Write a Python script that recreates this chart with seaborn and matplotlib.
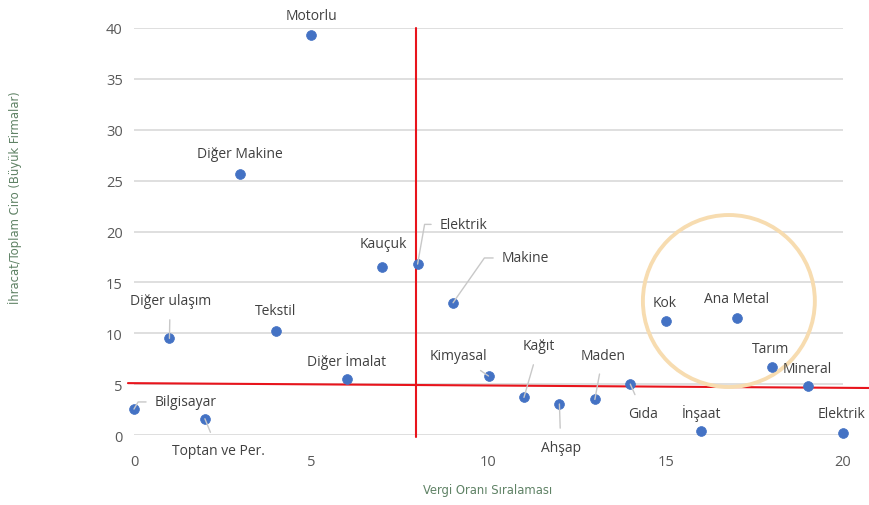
import matplotlib
matplotlib.use("Agg")
import matplotlib.pyplot as plt
import seaborn as sns
import pandas as pd
from matplotlib.patches import Ellipse

# sektörler ve değerler
sectors = ["Bilgisayar", "Diğer ulaşım", "Toptan ve Per.", "Diğer Makine", "Tekstil",
           "Motorlu", "Diğer İmalat", "Kauçuk", "Elektrik", "Makine", "Kimyasal",
           "Kağıt", "Ahşap", "Maden", "Gıda", "Kok", "İnşaat", "Ana Metal",
           "Tarım", "Mineral", "Elektrik"]
tax_rank = [0, 1, 2, 3, 4, 5, 6, 7, 8, 9, 10, 11, 12, 13, 14, 15, 16, 17, 18, 19, 20]
export_ratio = [2.55, 9.5, 1.6, 25.65, 10.2, 39.3, 5.5, 16.5, 16.8, 13.0, 5.8,
                3.7, 3.05, 3.5, 5.0, 11.2, 0.4, 11.5, 6.7, 4.8, 0.15]

# kırmızı ayrım çizgileri
vline_x = 7.95
hline_x = [-0.17, 20.8]
hline_y = [5.1, 4.62]

x_ticks = [0, 5, 10, 15, 20]
y_ticks = [0, 5, 10, 15, 20, 25, 30, 35, 40]

# etiket konumları (veri koordinatında), hizalama, kılavuz çizgisi açısı (None = çizgi yok)
label_pos = [
    (0.59, 3.25, "left", 60),
    (1.02, 13.2, "center", "straight"),
    (2.37, -1.55, "center", "straight"),
    (3.0, 27.7, "center", None),
    (4.0, 12.2, "center", None),
    (5.0, 41.2, "center", None),
    (6.0, 7.3, "center", None),
    (7.02, 18.8, "center", None),
    (8.63, 20.7, "left", 80),
    (10.38, 17.4, "left", 55),
    (9.14, 7.86, "center", "straight"),
    (11.42, 8.75, "center", "straight"),
    (12.04, -1.2, "center", "straight"),
    (13.23, 7.86, "center", "straight"),
    (14.36, 2.16, "center", "straight"),
    (14.98, 13.07, "center", None),
    (16.0, 2.26, "center", None),
    (17.0, 13.37, "center", None),
    (17.97, 8.55, "center", None),
    (18.98, 6.58, "center", None),
    (19.97, 2.16, "center", None),
]

df = pd.DataFrame({"sektor": sectors, "vergi": tax_rank, "ihracat": export_ratio})

sns.set_style("white")
plt.rcParams['font.family'] = ['Open Sans', 'DejaVu Sans']

fig = plt.figure(figsize=(8.7, 5.06), dpi=100)
ax = fig.add_axes([0.154, 0.1383, 0.815, 0.8044])

ax.set_xlim(0, 20)
ax.set_ylim(0, 40)
ax.set_xticks(x_ticks)
ax.set_yticks(y_ticks)
ax.grid(axis="y", color="#d9d9d9", linewidth=1.2)
ax.set_axisbelow(True)
for s in ax.spines.values():
    s.set_visible(False)
ax.tick_params(axis="both", length=0, labelsize=10.5, labelcolor="#595959", pad=8)
ax.tick_params(axis="x", pad=14)

# kırmızı çizgiler
ax.plot([vline_x, vline_x], [-0.2, 40], color="#e8141c", linewidth=1.5, clip_on=False, zorder=2)
ax.plot(hline_x, hline_y, color="#e8141c", linewidth=1.5, clip_on=False, zorder=2)

sns.scatterplot(data=df, x="vergi", y="ihracat", ax=ax, color="#4472c4", s=50,
                edgecolor="#4472c4", linewidth=0.5, zorder=4, clip_on=False)

for (name, xv, yv), (tx, ty, ha, lead) in zip(zip(sectors, tax_rank, export_ratio), label_pos):
    if lead is None:
        ax.text(tx, ty, name, ha=ha, va="center", fontsize=10, color="#404040",
                clip_on=False, zorder=5)
        continue
    if lead == "straight":
        props = dict(arrowstyle="-", color="#c8c8c8", lw=1, shrinkA=6, shrinkB=0)
    else:
        props = dict(arrowstyle="-", color="#c8c8c8", lw=1, shrinkA=4, shrinkB=0,
                     relpos=(0, 0.5),
                     connectionstyle=f"angle,angleA=0,angleB={lead},rad=0")
    ax.annotate(name, xy=(xv, yv), xytext=(tx, ty), ha=ha, va="center",
                fontsize=10, color="#404040", annotation_clip=False,
                arrowprops=props, zorder=5)

# vurgulanan bölge
circ = Ellipse((16.78, 13.17), width=4.85, height=16.9, fill=False,
               edgecolor="#f7dcb0", linewidth=2.8, zorder=3, clip_on=False)
ax.add_patch(circ)

ax.set_xlabel("Vergi Oranı Sıralaması", fontsize=9.3, color="#5f8265",
              family="DejaVu Sans", fontstretch="condensed")
ax.set_ylabel("İhracat/Toplam Ciro (Büyük Firmalar)", fontsize=9.3, color="#5f8265",
              family="DejaVu Sans", fontstretch="condensed", va="center")
ax.xaxis.set_label_coords(0.499, -0.133)
ax.xaxis.label.set_va("center")
ax.yaxis.set_label_coords(-0.168, 0.585)

fig.savefig("out.png", dpi=100)
